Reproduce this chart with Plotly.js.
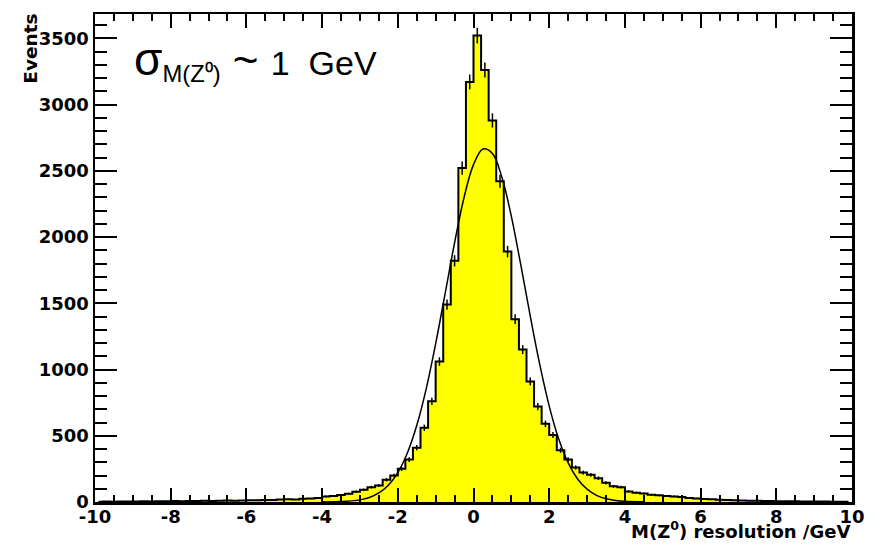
<!DOCTYPE html>
<html>
<head>
<meta charset="utf-8">
<script src="https://cdn.plot.ly/plotly-3.0.1.min.js"></script>
<style>html,body{margin:0;padding:0;background:#fff;}#chart{width:875px;height:554px;}</style>
</head>
<body>
<div id="chart"></div>
<script>
// Histogram bin centres (bin width 0.2 GeV, range -10..10)
var binCenters = [-9.9,-9.7,-9.5,-9.3,-9.1,-8.9,-8.7,-8.5,-8.3,-8.1,
  -7.9,-7.7,-7.5,-7.3,-7.1,-6.9,-6.7,-6.5,-6.3,-6.1,
  -5.9,-5.7,-5.5,-5.3,-5.1,-4.9,-4.7,-4.5,-4.3,-4.1,
  -3.9,-3.7,-3.5,-3.3,-3.1,-2.9,-2.7,-2.5,-2.3,-2.1,
  -1.9,-1.7,-1.5,-1.3,-1.1,-0.9,-0.7,-0.5,-0.3,-0.1,
  0.1,0.3,0.5,0.7,0.9,1.1,1.3,1.5,1.7,1.9,
  2.1,2.3,2.5,2.7,2.9,3.1,3.3,3.5,3.7,3.9,
  4.1,4.3,4.5,4.7,4.9,5.1,5.3,5.5,5.7,5.9,
  6.1,6.3,6.5,6.7,6.9,7.1,7.3,7.5,7.7,7.9,
  8.1,8.3,8.5,8.7,8.9,9.1,9.3,9.5,9.7,9.9];
// Events per bin
var events = [2,3,2,3,4,3,5,4,6,5,
  7,6,8,7,9,8,10,11,10,12,
  14,13,16,15,18,20,19,24,26,30,
  42,46,52,62,78,92,112,125,168,200,
  250,320,410,560,760,1060,1490,1820,2520,3170,
  3520,3260,2880,2420,1890,1380,1150,910,720,590,
  505,390,320,260,222,205,180,145,118,112,
  80,70,64,54,50,45,42,37,30,27,
  22,20,17,15,13,12,10,9,8,7,
  6,6,5,4,4,3,3,2,2,2];
// Gaussian fit curve
var fitX = [-4.0,-3.5,-3.0,-2.75,-2.5,-2.25,-2.0,-1.75,-1.5,-1.25,-1.0,-0.75,-0.5,-0.25,0,0.25,0.5,0.75,1.0,1.25,1.5,1.75,2.0,2.25,2.5,2.75,3.0,3.25,3.5,3.75,4.0,4.5];
var fitY = [1,3,16,34,68,126,222,368,577,854,1194,1573,1956,2298,2546,2664,2630,2451,2156,1789,1402,1038,724,477,296,174,97,50,25,12,5,1];
// Axis ticks
var xTickVals = [-10,-8,-6,-4,-2,0,2,4,6,8,10];
var xTickText = ['-10','-8','-6','-4','-2','0','2','4','6','8','10'];
var yTickVals = [0,500,1000,1500,2000,2500,3000,3500];
var yTickText = ['0','500','1000','1500','2000','2500','3000','3500'];

var errs = events.map(function(v){return Math.sqrt(v);});

var tickFont = {family:'DejaVu Sans', size:18, color:'#000', weight:'bold'};

var traces = [
  {x: binCenters, y: events, type:'scatter', mode:'lines', line:{shape:'hvh', color:'#000', width:2},
   fill:'tozeroy', fillcolor:'#ffff00', hoverinfo:'skip'},
  {x: binCenters, y: events, type:'scatter', mode:'markers', marker:{size:1, color:'rgba(0,0,0,0)'},
   error_y:{type:'data', array: errs, visible:true, color:'#000', thickness:1.5, width:0}, hoverinfo:'skip'},
  {x: fitX, y: fitY, type:'scatter', mode:'lines', line:{shape:'spline', color:'#000', width:1.5}, hoverinfo:'skip'}
];

var layout = {
  width:875, height:554,
  margin:{l:95, r:23, t:14, b:52, pad:0},
  paper_bgcolor:'#fff', plot_bgcolor:'#fff',
  showlegend:false,
  xaxis:{range:[-10,10], tickmode:'array', tickvals:xTickVals, ticktext:xTickText,
    ticks:'inside', ticklen:14, tickwidth:2, tickcolor:'#000',
    showline:true, linewidth:2.5, linecolor:'#000', mirror:'ticks',
    showgrid:false, zeroline:false, tickfont:tickFont, ticklabelstandoff:-3,
    minor:{dtick:0.5, tick0:0, ticks:'inside', ticklen:7, tickwidth:2, tickcolor:'#000', showgrid:false}},
  yaxis:{range:[0,3683], tickmode:'array', tickvals:yTickVals, ticktext:yTickText,
    ticks:'inside', ticklen:22, tickwidth:2, tickcolor:'#000',
    showline:true, linewidth:2.5, linecolor:'#000', mirror:'ticks',
    showgrid:false, zeroline:false, tickfont:tickFont,
    minor:{dtick:100, tick0:0, ticks:'inside', ticklen:12, tickwidth:2, tickcolor:'#000', showgrid:false}},
  annotations:[
    {text:'<span style="font-size:46px">σ</span><sub>M(Z⁰)</sub><span style="font-size:44px"> ~ </span>1\u00a0 GeV',
     xref:'paper', yref:'paper', x:0.049, y:0.965,
     xanchor:'left', yanchor:'top', showarrow:false,
     font:{family:'Liberation Sans, Arial', size:34, color:'#000'}},
    {text:'M(Z<sup>0</sup>) resolution /GeV', xref:'paper', yref:'paper', x:1, y:-0.028,
     xanchor:'right', yanchor:'top', showarrow:false,
     font:{family:'DejaVu Sans', size:18, color:'#000', weight:'bold'}},
    {text:'Events', xref:'paper', yref:'paper', x:0, xshift:-64, y:0.929, textangle:-90,
     xanchor:'center', yanchor:'middle', showarrow:false,
     font:{family:'DejaVu Sans', size:18.5, color:'#000', weight:'bold'}}
  ]
};

Plotly.newPlot('chart', traces, layout, {displayModeBar:false, staticPlot:true});
</script>
</body>
</html>
